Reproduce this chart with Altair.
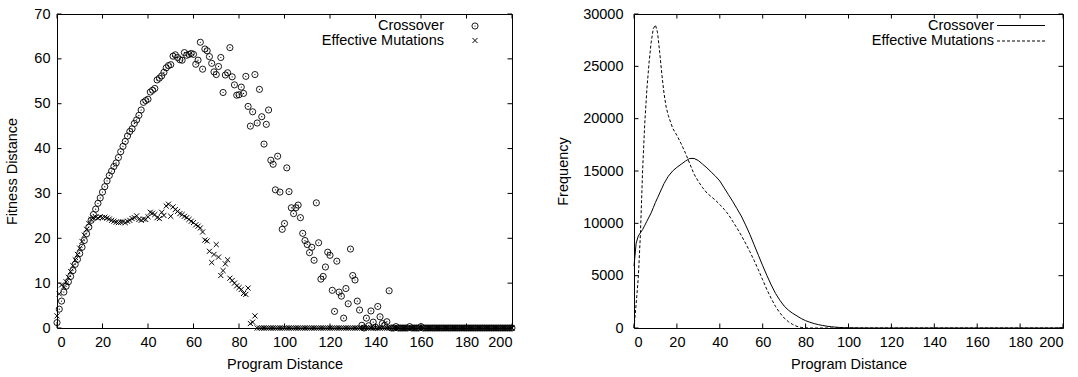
import altair as alt
import pandas as pd

# ---------------- data ----------------
program_distance = list(range(0, 201))

crossover_fitness = [
    1.2, 4.2, 6.0, 8.0, 9.3, 10.3, 11.5, 12.8, 14.2, 15.3,          # 0-9
    16.6, 18.0, 19.5, 21.0, 22.5, 24.0, 25.3, 26.5, 27.8, 29.0,     # 10-19
    30.3, 31.5, 32.8, 34.0, 35.0, 36.0, 36.8, 38.0, 39.3, 40.5,     # 20-29
    41.6, 42.8, 43.8, 44.4, 45.6, 46.4, 47.4, 48.6, 50.3, 50.7,     # 30-39
    51.0, 52.6, 53.0, 53.4, 55.3, 55.7, 56.2, 57.0, 58.0, 58.5,     # 40-49
    58.7, 60.6, 60.9, 60.3, 59.8, 59.7, 61.4, 60.8, 61.0, 61.2,     # 50-59
    61.0, 58.8, 59.7, 63.7, 57.7, 62.2, 61.8, 60.5, 59.0, 57.1,     # 60-69
    56.5, 58.3, 60.3, 52.5, 56.4, 56.9, 62.5, 56.0, 54.2, 51.9,     # 70-79
    52.0, 53.7, 52.3, 56.1, 49.4, 45.0, 48.2, 56.5, 45.7, 53.2,     # 80-89
    47.1, 41.0, 45.4, 48.6, 37.4, 36.5, 30.8, 38.3, 30.3, 22.0,     # 90-99
    23.3, 35.7, 30.4, 26.8, 25.5, 26.8, 27.4, 24.6, 21.1, 19.5,     # 100-109
    18.6, 16.8, 18.0, 15.1, 27.9, 19.0, 10.9, 11.5, 13.6, 16.9,     # 110-119
    16.2, 8.4, 3.7, 14.9, 8.0, 7.1, 2.2, 8.8, 5.4, 17.6,            # 120-129
    11.7, 10.7, 6.0, 4.0, 0.6, 0.0, 2.2, 0.5, 3.8, 1.3,             # 130-139
    0.2, 4.8, 2.5, 1.0, 0.6, 1.4, 8.3, 0.0, 0.0, 0.3,               # 140-149
    0.0, 0.0, 0.0, 0.0, 0.0, 0.3, 0.0, 0.0, 0.0, 0.0,               # 150-159
    0.3, 0.0, 0.0, 0.0, 0.0, 0.0, 0.0, 0.0, 0.0, 0.0,               # 160-169
    0.0, 0.0, 0.0, 0.0, 0.0, 0.0, 0.0, 0.0, 0.0, 0.0,               # 170-179
    0.0, 0.0, 0.0, 0.0, 0.0, 0.0, 0.0, 0.0, 0.0, 0.0,               # 180-189
    0.0, 0.0, 0.0, 0.0, 0.0, 0.0, 0.0, 0.0, 0.0, 0.0,               # 190-199
    0.0,                                                            # 200
]

mutation_fitness = [
    2.7, 7.6, 9.6, 9.2, 10.3, 11.3, 12.6, 13.9, 15.2, 16.4,         # 0-9
    17.8, 19.3, 20.7, 22.0, 23.3, 24.2, 24.6, 24.7, 24.5, 24.8,     # 10-19
    24.6, 24.7, 24.5, 24.3, 24.0, 23.8, 23.6, 23.5, 23.6, 23.7,     # 20-29
    23.5, 23.8, 24.0, 24.4, 24.6, 25.0, 24.2, 24.0, 24.3, 24.2,     # 30-39
    24.8, 25.8, 25.6, 25.3, 24.6, 24.4, 25.8, 25.1, 27.2, 27.6,     # 40-49
    24.9, 27.0, 26.4, 26.0, 25.5, 25.3, 24.9, 24.6, 24.2, 23.8,     # 50-59
    23.5, 23.0, 22.7, 22.3, 21.4, 19.6, 19.4, 17.1, 14.6, 16.4,     # 60-69
    18.6, 15.8, 11.7, 12.8, 14.3, 15.2, 11.1, 10.6, 10.0, 9.4,      # 70-79
    9.0, 8.6, 7.7, 7.5, 8.9, 1.0, 1.3, 2.7, 0.0, 0.0,               # 80-89
    0.0, 0.0, 0.0, 0.0, 0.0, 0.0, 0.0, 0.0, 0.0, 0.0,               # 90-99
    0.0, 0.0, 0.0, 0.0, 0.0, 0.0, 0.0, 0.0, 0.0, 0.0,               # 100-109
    0.0, 0.0, 0.0, 0.0, 0.0, 0.0, 0.0, 0.0, 0.0, 0.0,               # 110-119
    0.0, 0.0, 0.0, 0.0, 0.0, 0.0, 0.0, 0.0, 0.0, 0.0,               # 120-129
    0.0, 0.0, 0.0, 0.0, 0.0, 0.0, 0.0, 0.0, 0.0, 0.0,               # 130-139
    0.0, 0.0, 0.0, 0.0, 0.0, 0.0, 0.0, 0.0, 0.0, 0.0,               # 140-149
    0.0, 0.0, 0.0, 0.0, 0.0, 0.0, 0.0, 0.0, 0.0, 0.0,               # 150-159
    0.0, 0.0, 0.0, 0.0, 0.0, 0.0, 0.0, 0.0, 0.0, 0.0,               # 160-169
    0.0, 0.0, 0.0, 0.0, 0.0, 0.0, 0.0, 0.0, 0.0, 0.0,               # 170-179
    0.0, 0.0, 0.0, 0.0, 0.0, 0.0, 0.0, 0.0, 0.0, 0.0,               # 180-189
    0.0, 0.0, 0.0, 0.0, 0.0, 0.0, 0.0, 0.0, 0.0, 0.0,               # 190-199
    0.0,                                                            # 200
]

freq_x = [0, 1, 2, 3, 4, 5, 6, 7, 8, 9, 10, 11, 12, 13, 14, 15, 16,
          18, 20, 22, 24, 26, 28, 30, 32, 34, 36, 38, 40, 42, 44, 46, 48,
          50, 52, 54, 56, 58, 60, 62, 64, 66, 68, 70, 72, 74, 76, 78, 80,
          82, 84, 86, 88, 90, 92, 94, 96, 98, 100,
          105, 110, 120, 140, 160, 180, 200]

crossover_freq = [5900, 8100, 8800, 9100, 9400, 9800, 10200, 10600, 11000, 11500,
                  12000, 12450, 12900, 13350, 13800, 14150, 14500,
                  15000, 15350, 15650, 15950, 16200, 16200, 16000, 15650, 15300,
                  14900, 14500, 14050, 13400, 12750, 12100, 11400,
                  10700, 9850, 8950, 7950, 6950, 5950, 5000, 4100, 3300, 2650,
                  2100, 1700, 1400, 1150, 900, 700,
                  550, 420, 320, 240, 170, 120, 80, 50, 30, 15,
                  5, 0, 0, 0, 0, 0, 0]

mutation_freq = [0, 2300, 4800, 9000, 15000, 19500, 22800, 25300, 27300, 28600,
                 28950, 28200, 26300, 24200, 22400, 21100, 20300,
                 19100, 18400, 17600, 16700, 15700, 14700, 14000, 13400, 12900,
                 12550, 12200, 11800, 11350, 10850, 10200, 9550,
                 8850, 8100, 7300, 6450, 5550, 4600, 3650, 2800, 2050, 1450,
                 950, 600, 330, 150, 50, 10,
                 0, 0, 0, 0, 0, 0, 0, 0, 0, 0,
                 0, 0, 0, 0, 0, 0, 0]

series_names = ["Crossover", "Effective Mutations"]
x_tick_values = [0, 20, 40, 60, 80, 100, 120, 140, 160, 180, 200]
fit_tick_values = [0, 10, 20, 30, 40, 50, 60, 70]
freq_tick_values = [0, 5000, 10000, 15000, 20000, 25000, 30000]

# ---------------- styling ----------------
FONT = "Liberation Sans"
FS = 14.5
W1, W2, H = 455, 429, 314
TL = 4.5

fit_df = pd.DataFrame({"x": program_distance,
                       "cross": crossover_fitness,
                       "mut": mutation_fitness})
freq_df = pd.DataFrame({"x": freq_x,
                        "cross": crossover_freq,
                        "mut": mutation_freq})
xt_df = pd.DataFrame({"x": x_tick_values})
fit_t_df = pd.DataFrame({"cross": fit_tick_values})
freq_t_df = pd.DataFrame({"cross": freq_tick_values})
one_row = pd.DataFrame({"k": [0]})

xscale = alt.Scale(domain=[0, 200], nice=False, zero=False)
fit_scale = alt.Scale(domain=[0, 70], nice=False)
freq_scale = alt.Scale(domain=[0, 30000], nice=False)


def x_axis():
    return alt.Axis(values=x_tick_values, title="Program Distance",
                    labelPadding=7, titlePadding=9, format="d")


def y_axis(vals, title, pad, tpad):
    return alt.Axis(values=vals, title=title, labelPadding=pad,
                    titlePadding=tpad, format="d")


def xtick_layers():
    base = alt.Chart(xt_df)
    xb = base.mark_rule(color="black", strokeWidth=1).encode(
        x=alt.X("x:Q", scale=xscale, axis=x_axis()),
        y=alt.value(H), y2=alt.value(H - TL))
    xt = base.mark_rule(color="black", strokeWidth=1).encode(
        x=alt.X("x:Q", scale=xscale, axis=x_axis()),
        y=alt.value(0), y2=alt.value(TL))
    return [xb, xt]


def ytick_layers(tdf, yscale, yax, width):
    base = alt.Chart(tdf)
    yl = base.mark_rule(color="black", strokeWidth=1).encode(
        y=alt.Y("cross:Q", scale=yscale, axis=yax),
        x=alt.value(0), x2=alt.value(TL))
    yr = base.mark_rule(color="black", strokeWidth=1).encode(
        y=alt.Y("cross:Q", scale=yscale, axis=yax),
        x=alt.value(width), x2=alt.value(width - TL))
    return [yl, yr]


def legend_text(label, px, py):
    return alt.Chart(one_row).mark_text(
        text=label, align="right", baseline="middle", font=FONT,
        fontSize=FS, color="black").encode(x=alt.value(px), y=alt.value(py))


# ---------------- left panel ----------------
fit_yax = y_axis(fit_tick_values, "Fitness Distance", 7, 14)
fb = alt.Chart(fit_df)
circles = fb.mark_point(shape="circle", size=38, filled=False, color="black",
                        strokeWidth=0.9, opacity=1).encode(
    x=alt.X("x:Q", scale=xscale, axis=x_axis()),
    y=alt.Y("cross:Q", scale=fit_scale, axis=fit_yax))
dots = fb.mark_point(shape="circle", size=1.5, filled=True, color="black",
                     opacity=1).encode(
    x=alt.X("x:Q", scale=xscale, axis=x_axis()),
    y=alt.Y("cross:Q", scale=fit_scale, axis=fit_yax))
crosses = fb.mark_point(shape="M-1,-1L1,1M1,-1L-1,1", size=26, filled=False,
                        color="black", strokeWidth=1, opacity=1).encode(
    x=alt.X("x:Q", scale=xscale, axis=x_axis()),
    y=alt.Y("mut:Q", scale=fit_scale, axis=fit_yax))

leg_c = alt.Chart(one_row).mark_point(shape="circle", size=38, filled=False,
                                      color="black", strokeWidth=0.9,
                                      opacity=1).encode(
    x=alt.value(418), y=alt.value(12))
leg_cd = alt.Chart(one_row).mark_point(shape="circle", size=1.5, filled=True,
                                       color="black", opacity=1).encode(
    x=alt.value(418), y=alt.value(12))
leg_x = alt.Chart(one_row).mark_point(shape="M-1,-1L1,1M1,-1L-1,1", size=26,
                                      filled=False, color="black",
                                      strokeWidth=1, opacity=1).encode(
    x=alt.value(418), y=alt.value(26.5))

left = alt.layer(
    circles, dots, crosses,
    *xtick_layers(),
    *ytick_layers(fit_t_df, fit_scale, fit_yax, W1),
    legend_text(series_names[0], 387, 12),
    legend_text(series_names[1], 387, 26.5),
    leg_c, leg_cd, leg_x,
).properties(width=W1, height=H)

# ---------------- right panel ----------------
freq_yax = y_axis(freq_tick_values, "Frequency", 11, 12)
qb = alt.Chart(freq_df)
solid = qb.mark_line(color="black", strokeWidth=1).encode(
    x=alt.X("x:Q", scale=xscale, axis=x_axis()),
    y=alt.Y("cross:Q", scale=freq_scale, axis=freq_yax))
dashed = qb.mark_line(color="black", strokeWidth=1, strokeDash=[3, 2]).encode(
    x=alt.X("x:Q", scale=xscale, axis=x_axis()),
    y=alt.Y("mut:Q", scale=freq_scale, axis=freq_yax))

leg_s = alt.Chart(one_row).mark_rule(color="black", strokeWidth=1).encode(
    x=alt.value(363), x2=alt.value(411), y=alt.value(11.5))
leg_d = alt.Chart(one_row).mark_rule(color="black", strokeWidth=1,
                                     strokeDash=[3, 2]).encode(
    x=alt.value(363), x2=alt.value(411), y=alt.value(27))

right = alt.layer(
    solid, dashed,
    *xtick_layers(),
    *ytick_layers(freq_t_df, freq_scale, freq_yax, W2),
    legend_text(series_names[0], 360, 12),
    legend_text(series_names[1], 360, 26.5),
    leg_s, leg_d,
).properties(width=W2, height=H)

chart = alt.hconcat(left, right, spacing=122, bounds="flush").properties(
    padding={"left": 4, "top": 5, "right": 0, "bottom": 0},
    background="white",
).configure_view(
    stroke="black", strokeWidth=1
).configure_axis(
    labelFont=FONT, labelFontSize=FS, titleFont=FONT, titleFontSize=FS,
    titleFontWeight="normal", labelColor="black", titleColor="black",
    ticks=False, domain=False, grid=False,
)

chart.save("out.html", embed_options={"renderer": "svg", "actions": False})
